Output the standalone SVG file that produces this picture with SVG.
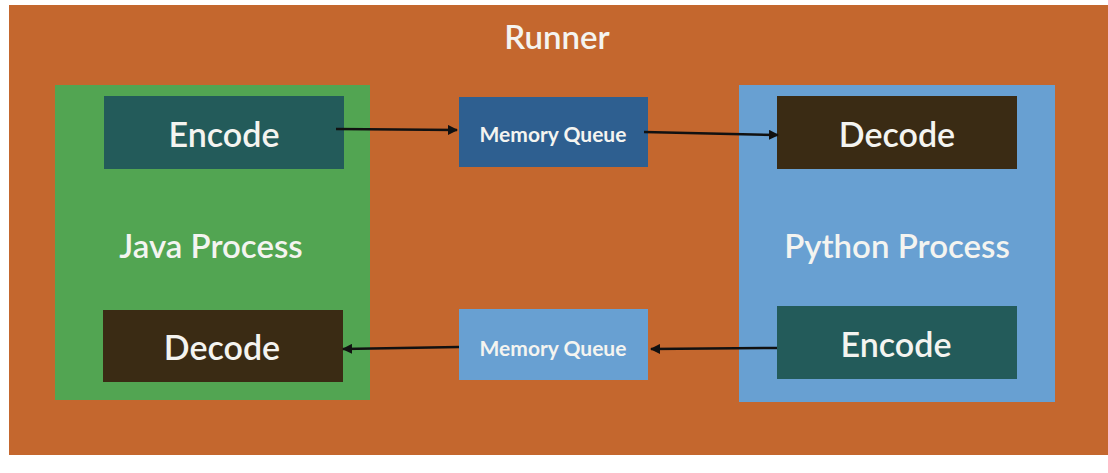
<svg xmlns="http://www.w3.org/2000/svg" width="1108" height="473" viewBox="0 0 1108 473">
<defs>
<style>
.t{font-family:Lato,"Open Sans","Liberation Sans",sans-serif;fill:#F4F4F0;text-anchor:middle;dominant-baseline:central;font-weight:600}
.big{font-size:34px}
.mid{font-size:33px}
.sm{font-size:21px;font-weight:bold}
.enc{fill:#235B5A}
.dec{fill:#3A2B14}
.conn{stroke:#111;stroke-width:2.5;fill:none}
</style>
<marker id="ah" viewBox="0 0 10 10" refX="9" refY="5" markerWidth="4" markerHeight="4" orient="auto">
<path d="M0,0 L10,5 L0,10 z" fill="#111"/>
</marker>
</defs>
<rect width="1108" height="473" fill="#FFFFFF"/>
<g id="runner">
<rect x="9" y="5" width="1099" height="450" fill="#C4672E"/>
<text class="t mid" x="557" y="36">Runner</text>
</g>
<g id="java">
<rect x="55" y="85" width="315" height="315" fill="#52A552"/>
<text class="t mid" x="211" y="245">Java Process</text>
</g>
<g id="python">
<rect x="739" y="85" width="316" height="317" fill="#68A0D2"/>
<text class="t mid" x="897" y="245">Python Process</text>
</g>
<g id="java-encode">
<rect class="enc" x="104" y="96" width="240" height="73"/>
<text class="t big" x="224" y="133">Encode</text>
</g>
<g id="java-decode">
<rect class="dec" x="103" y="310" width="240" height="72"/>
<text class="t big" x="222" y="346">Decode</text>
</g>
<g id="python-decode">
<rect class="dec" x="777" y="96" width="240" height="73"/>
<text class="t big" x="897" y="133">Decode</text>
</g>
<g id="python-encode">
<rect class="enc" x="777" y="306" width="240" height="73"/>
<text class="t big" x="896" y="343">Encode</text>
</g>
<g id="queue-top">
<rect x="459" y="97" width="189" height="70" fill="#2E5F90"/>
<text class="t sm" x="553" y="133">Memory Queue</text>
</g>
<g id="queue-bottom">
<rect x="459" y="309" width="189" height="71" fill="#68A0D2"/>
<text class="t sm" x="553" y="347">Memory Queue</text>
</g>
<g id="connectors">
<line class="conn" x1="336" y1="129" x2="457" y2="130" marker-end="url(#ah)"/>
<line class="conn" x1="644" y1="132" x2="778" y2="135" marker-end="url(#ah)"/>
<line class="conn" x1="777" y1="348" x2="651" y2="349" marker-end="url(#ah)"/>
<line class="conn" x1="459" y1="347" x2="343" y2="349" marker-end="url(#ah)"/>
</g>
</svg>
